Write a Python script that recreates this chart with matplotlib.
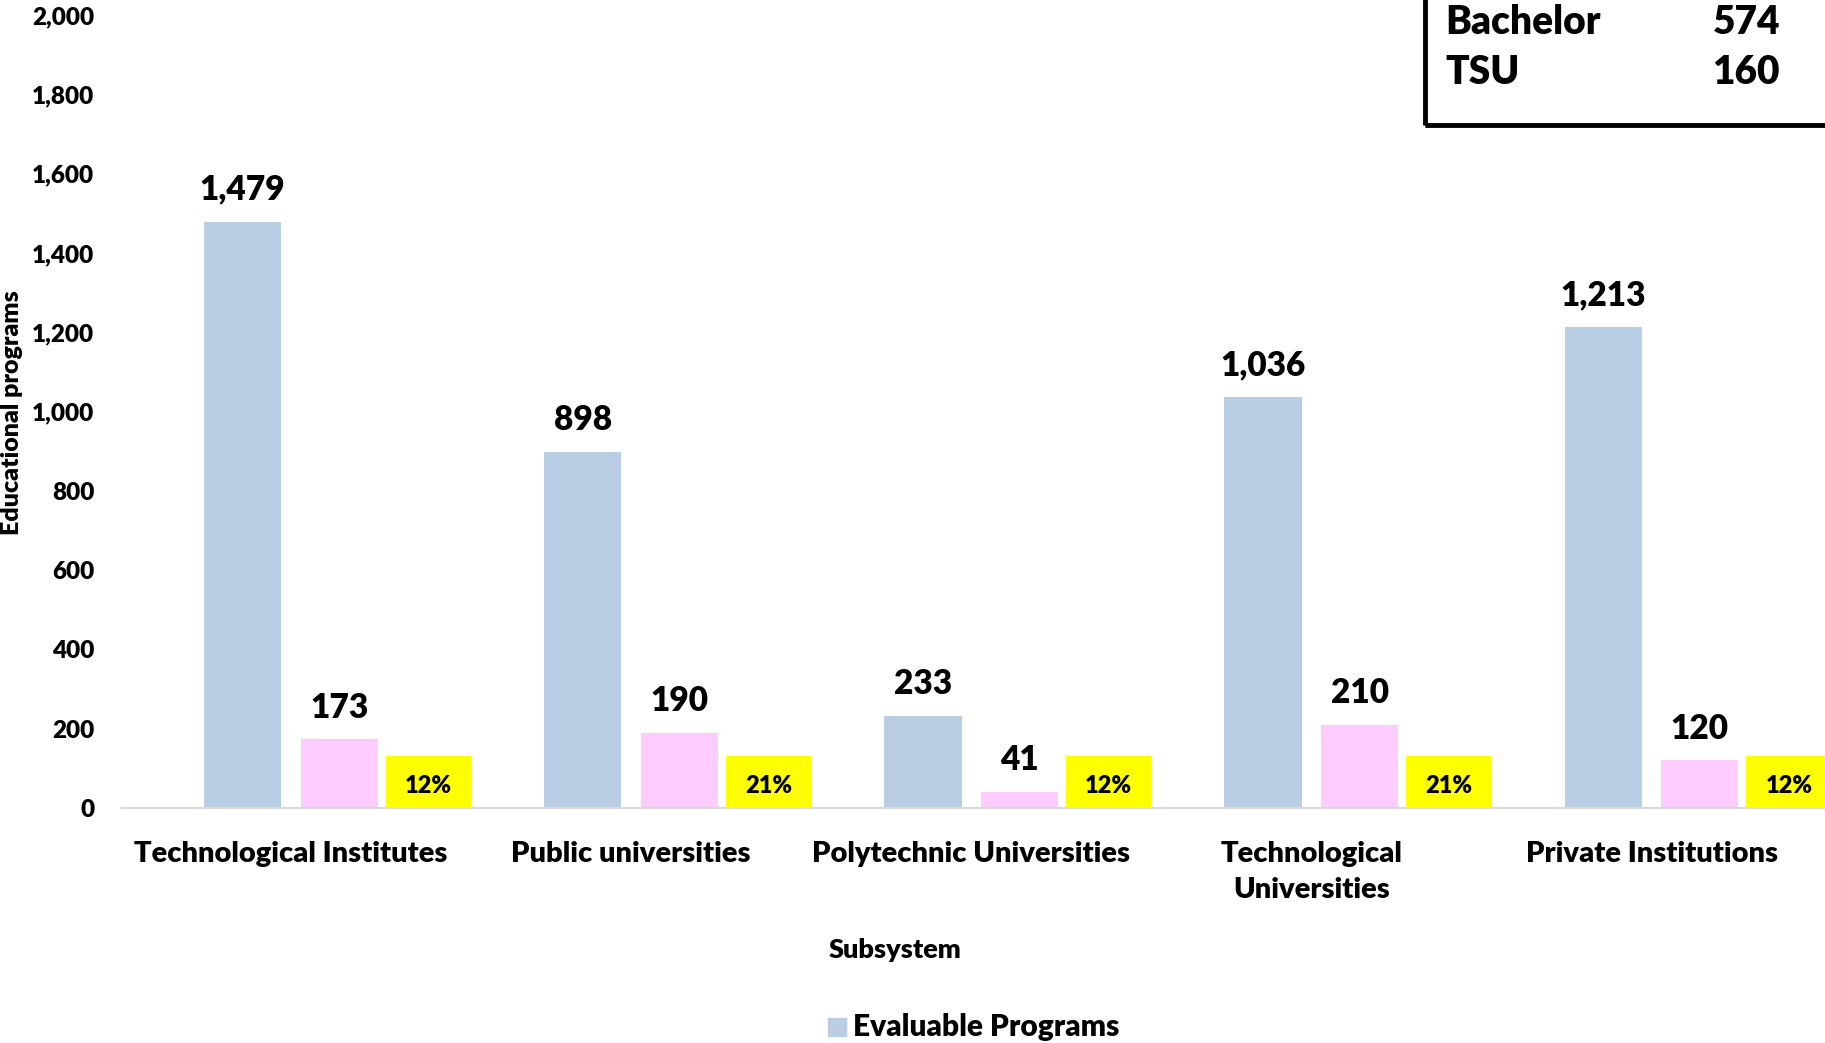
import numpy as np
import matplotlib.pyplot as plt

plt.rcParams['font.family'] = ['Lato', 'DejaVu Sans']
plt.rcParams['font.weight'] = 'bold'
WT = "heavy"

categories = ["Technological Institutes", "Public universities", "Polytechnic Universities",
              "Technological\nUniversities", "Private Institutions"]
evaluable = [1479, 898, 233, 1036, 1213]
second = [173, 190, 41, 210, 120]
shares = ["12%", "21%", "12%", "21%", "12%"]
y_ticks = [0, 200, 400, 600, 800, 1000, 1200, 1400, 1600, 1800, 2000]
box_rows = [("Bachelor", 574), ("TSU", 160)]

blue = "#B9CDE5"
pink = "#FFCCFF"
yellow = "#FFFF00"

fig = plt.figure(figsize=(18.25, 10.43), dpi=100)
ax = fig.add_axes([0.0668, 0.2253, 0.9332, 0.7603])

x = np.arange(len(categories))
w = 0.227
off = 0.142
ax.bar(x - off, evaluable, w, color=blue, label="Evaluable Programs", zorder=2)
ax.bar(x + off, second, w, color=pink, zorder=2)

# yellow percentage boxes
box_h = 130
ax.bar(x + off + 0.262, [box_h] * len(x), 0.25, color=yellow, zorder=3)
for xi, s in zip(x, shares):
    ax.text(xi + off + 0.262, box_h / 2 - 10, s, ha="center", va="center",
            fontsize=17, fontweight=WT, zorder=4)

for xi, v in zip(x, evaluable):
    ax.text(xi - off, v + 40, f"{v:,}", ha="center", va="bottom", fontsize=24, fontweight=WT)
for xi, v in zip(x, second):
    ax.text(xi + off, v + 40, f"{v:,}", ha="center", va="bottom", fontsize=24, fontweight=WT)

ax.set_xlim(-0.497, 4.51)
ax.set_ylim(0, 2000)
ax.set_yticks(y_ticks)
ax.set_yticklabels([f"{t:,}" for t in y_ticks], fontsize=17.5, fontweight=WT)
ax.set_xticks(x)
ax.set_xticklabels(categories, fontsize=21, fontweight=WT, va="top", linespacing=1.45)
ax.tick_params(axis="both", length=0)
ax.tick_params(axis="y", pad=20)
ax.tick_params(axis="x", pad=24)
for s in ["top", "right", "left"]:
    ax.spines[s].set_visible(False)
ax.spines["bottom"].set_color("#D9D9D9")
ax.spines["bottom"].set_linewidth(1.5)

fig.text(0.0066, 0.604, "Educational programs", rotation=90, ha="center", va="center",
         fontsize=18, fontweight=WT)
fig.text(0.4904, 0.089, "Subsystem", ha="center", va="center", fontsize=19.5, fontweight=WT)

# legend
fig.patches.append(plt.Rectangle((828 / 1825, 1 - 1036 / 1043), 18 / 1825, 18 / 1043,
                                 transform=fig.transFigure, color=blue))
fig.text(853 / 1825, 1 - 1027 / 1043, "Evaluable Programs", ha="left", va="center",
         fontsize=21.5, fontweight=WT)

# summary box (top right)
fig.patches.append(plt.Rectangle((1425 / 1825, 1 - 125 / 1043), 0.3, 0.2,
                                 transform=fig.transFigure, fill=False,
                                 edgecolor="black", linewidth=3.5))
for i, (lab, val) in enumerate(box_rows):
    yy = 1 - (22 + i * 51) / 1043
    fig.text(1445 / 1825, yy, lab, ha="left", va="center", fontsize=28, fontweight=WT)
    fig.text(1780 / 1825, yy, str(val), ha="right", va="center", fontsize=28, fontweight=WT)

fig.savefig("out.png", dpi=100)
